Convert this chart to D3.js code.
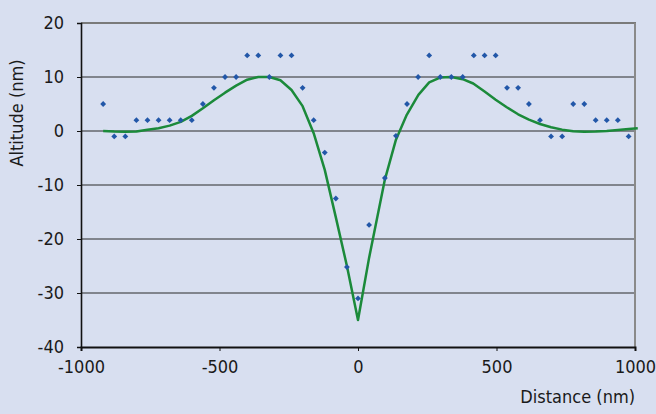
<!DOCTYPE html>
<html>
<head>
<meta charset="utf-8">
<script src="https://cdn.jsdelivr.net/npm/d3@7"></script>
<style>
  body { margin: 0; background: #d8dff0; }
  text { font-family: "Liberation Sans Narrow", "DejaVu Sans Condensed", sans-serif; fill: #1a1a1a; }
</style>
</head>
<body>
<script>
var width = 656,
    height = 414,
    margin = {top: 23, right: 21, bottom: 67, left: 81};

// measured points (distance nm, altitude nm)
var pointX = [-920, -880, -840, -800, -760, -720, -680, -640, -600, -560, -520, -480, -440, -400, -360, -320, -280, -240, -200, -160, -120, -80, -40, 0, 40,
              97, 137, 177, 217, 257, 297, 337, 378, 418, 457, 497, 538, 578, 617, 657, 697, 737, 777, 817, 858, 898, 938, 977];
var pointY = [5, -1, -1, 2, 2, 2, 2, 2, 2, 5, 8, 10, 10, 14, 14, 10, 14, 14, 8, 2, -4, -12.5, -25.2, -31, -17.4,
              -8.7, -0.9, 5, 10, 14, 10, 10, 10, 14, 14, 14, 8, 8, 5, 2, -1, -1, 5, 5, 2, 2, 2, -1];

// model curve
var curveX = [-920, -880, -840, -800, -760, -720, -680, -640, -600, -560, -520, -480, -440, -400, -360, -320, -280, -240, -200, -160, -120, -80, -40, 0,
              40, 97, 137, 176, 218, 257, 296, 337, 378, 416, 457, 497, 537, 578, 617, 657, 697, 737, 777, 817, 858, 898, 938, 977, 1010];
var curveY = [0, -0.1, -0.15, -0.1, 0.25, 0.5, 1.0, 1.7, 2.8, 4.2, 5.7, 7.1, 8.4, 9.5, 10, 10, 9.4, 7.6, 4.6, -0.4, -7.2, -16, -25, -35,
              -23.5, -9, -1.6, 3, 6.7, 9, 9.9, 10, 9.6, 8.8, 7.3, 5.8, 4.4, 3.1, 2.1, 1.3, 0.7, 0.25, -0.05, -0.15, -0.1, 0, 0.2, 0.35, 0.5];

var xTicks = [-1000, -500, 0, 500, 1000];
var yTicks = [-40, -30, -20, -10, 0, 10, 20];

var svg = d3.select("body").append("svg")
    .attr("width", width)
    .attr("height", height);

var x = d3.scaleLinear().domain([-1000, 1000]).range([margin.left, width - margin.right]);
var y = d3.scaleLinear().domain([-40, 20]).range([height - margin.bottom, margin.top]);

// gridlines
svg.append("g").selectAll("line")
    .data(yTicks.filter(function(d) { return d > -40 && d < 20; }))
  .enter().append("line")
    .attr("x1", x(-1000)).attr("x2", x(1000))
    .attr("y1", function(d) { return y(d); })
    .attr("y2", function(d) { return y(d); })
    .attr("stroke", "#2a2a2a")
    .attr("stroke-width", 1);

// top and right border
svg.append("line")
    .attr("x1", x(-1000)).attr("x2", x(1000) + 1)
    .attr("y1", y(20)).attr("y2", y(20))
    .attr("stroke", "#7a7a7a").attr("stroke-width", 2);
svg.append("line")
    .attr("x1", x(1000)).attr("x2", x(1000))
    .attr("y1", y(20)).attr("y2", y(-40))
    .attr("stroke", "#8a8a8a").attr("stroke-width", 2);

// axes
var yAxis = svg.append("g")
    .attr("transform", "translate(" + x(-1000) + ",0)")
    .call(d3.axisLeft(y).tickValues(yTicks).tickSize(4).tickPadding(13));
var xAxis = svg.append("g")
    .attr("transform", "translate(0," + y(-40) + ")")
    .call(d3.axisBottom(x).tickValues(xTicks).tickSize(4).tickPadding(9).tickFormat(d3.format("d")));

[yAxis, xAxis].forEach(function(g) {
  g.select(".domain").attr("stroke", "#111").attr("stroke-width", 1.6);
  g.selectAll(".tick line").attr("stroke", "#111");
  g.selectAll("text").style("font-size", "18px").attr("fill", "#1a1a1a")
    .text(function(d) { return String(d).replace("\u2212", "-"); });
});
xAxis.select(".domain").attr("stroke-width", 2);

// model line
var line = d3.line()
    .x(function(d) { return x(d[0]); })
    .y(function(d) { return y(d[1]); });

svg.append("path")
    .datum(d3.zip(curveX, curveY))
    .attr("d", line)
    .attr("fill", "none")
    .attr("stroke", "#1b8a3a")
    .attr("stroke-width", 2.5)
    .attr("stroke-linejoin", "round");

// points
svg.append("g").selectAll("path")
    .data(d3.zip(pointX, pointY))
  .enter().append("path")
    .attr("transform", function(d) { return "translate(" + x(d[0]) + "," + y(d[1]) + ") rotate(45)"; })
    .attr("d", d3.symbol().type(d3.symbolSquare).size(17))
    .attr("fill", "#2257a8");

// axis titles
svg.append("text")
    .attr("transform", "translate(23,113) rotate(-90)")
    .attr("text-anchor", "middle")
    .style("font-size", "18px")
    .text("Altitude (nm)");

svg.append("text")
    .attr("x", x(1000))
    .attr("y", 403)
    .attr("text-anchor", "end")
    .style("font-size", "18px")
    .text("Distance (nm)");
</script>
</body>
</html>
